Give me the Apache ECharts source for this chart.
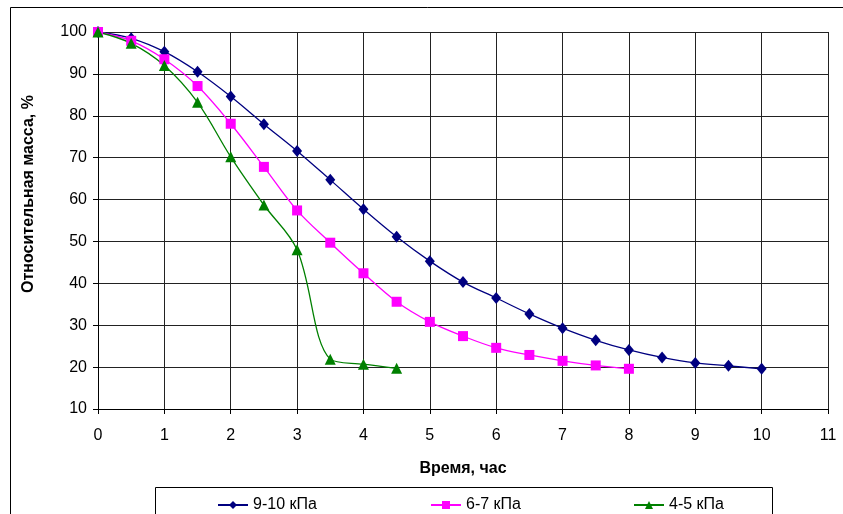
<!DOCTYPE html>
<html><head><meta charset="utf-8">
<script src="https://cdn.jsdelivr.net/npm/echarts@6/dist/echarts.min.js"></script>
<style>html,body{margin:0;padding:0;background:#fff}#c{width:843px;height:514px}</style>
</head><body><div id="c"></div>
<script>
var xTicks = [0,1,2,3,4,5,6,7,8,9,10,11];
var seriesNames = ['9-10 кПа', '6-7 кПа', '4-5 кПа'];
var time1 = [0,0.5,1,1.5,2,2.5,3,3.5,4,4.5,5,5.5,6,6.5,7,7.5,8,8.5,9,9.5,10];
var mass1 = [100,98.5,95.3,90.5,84.6,78.0,71.6,64.7,57.7,51.1,45.3,40.3,36.5,32.7,29.3,26.4,24.1,22.3,21.0,20.3,19.6];
var time2 = [0,0.5,1,1.5,2,2.5,3,3.5,4,4.5,5,5.5,6,6.5,7,7.5,8];
var mass2 = [100,97.9,93.5,87.1,78.1,67.8,57.4,49.7,42.4,35.6,30.8,27.4,24.6,22.9,21.5,20.4,19.6];
var time3 = [0,0.5,1,1.5,2,2.5,3,3.5,4,4.5];
var mass3 = [100,97.3,92.0,83.2,70.2,58.7,48.0,21.9,20.7,19.7];
var xName = 'Время, час';
var yName = 'Относительная масса, %';

function pairs(xs, ys){ return xs.map(function(x,i){ return [x, ys[i]]; }); }
var font = 'Liberation Sans, Arial, sans-serif';
var colors = ['#000080', '#FF00FF', '#008000'];
var symbols = ['diamond', 'rect', 'triangle'];
var sizes = [[10,12], 10, 11];
var datas = [pairs(time1, mass1), pairs(time2, mass2), pairs(time3, mass3)];

var chart = echarts.init(document.getElementById('c'));
var legendLefts = [212, 425, 628];
chart.setOption({
  animation: false,
  backgroundColor: '#fff',
  grid: {left: 98, top: 32, right: 15, bottom: 105, containLabel: false},
  graphic: [
    {type: 'rect', shape: {x: 10.5, y: 7.5, width: 900, height: 600}, style: {fill: 'none', stroke: '#000', lineWidth: 1}, z: -1},
    {type: 'rect', shape: {x: 155.5, y: 487.5, width: 617, height: 60}, style: {fill: '#fff', stroke: '#000', lineWidth: 1}, z: -1},
    {type: 'text', x: 29, y: 194, rotation: Math.PI / 2,
      style: {text: yName, fontFamily: font, fontSize: 16, fontWeight: 'bold', fill: '#000', align: 'center', verticalAlign: 'middle'}}
  ],
  legend: seriesNames.map(function(n, i){
    return {data: [n], left: legendLefts[i], top: 492, itemWidth: 30, itemHeight: 10, itemGap: 5,
      textStyle: {fontFamily: font, fontSize: 16, color: '#000'}};
  }),
  xAxis: {
    type: 'value', min: xTicks[0], max: xTicks[xTicks.length-1], interval: 1,
    name: xName, nameLocation: 'middle', nameGap: 52,
    nameTextStyle: {fontFamily: font, fontSize: 16, fontWeight: 'bold', color: '#000'},
    axisLine: {lineStyle: {color: '#000', width: 1}},
    axisTick: {show: true, length: 5, lineStyle: {color: '#000'}},
    axisLabel: {fontFamily: font, fontSize: 16, color: '#000', margin: 19},
    splitLine: {show: true, lineStyle: {color: '#222', width: 1}}
  },
  yAxis: {
    type: 'value', min: 10, max: 100, interval: 10,
    axisLine: {show: true, lineStyle: {color: '#000', width: 1}},
    axisTick: {show: true, length: 5, lineStyle: {color: '#000'}},
    axisLabel: {fontFamily: font, fontSize: 16, color: '#000', margin: 11},
    splitLine: {show: true, lineStyle: {color: '#222', width: 1}}
  },
  series: seriesNames.map(function(n, i){
    return {
      name: n, type: 'line', data: datas[i], smooth: 0.35,
      symbol: symbols[i], symbolSize: sizes[i], showSymbol: true,
      lineStyle: {color: colors[i], width: 1.3},
      itemStyle: {color: colors[i]},
      emphasis: {disabled: true}
    };
  })
});
</script></body></html>
